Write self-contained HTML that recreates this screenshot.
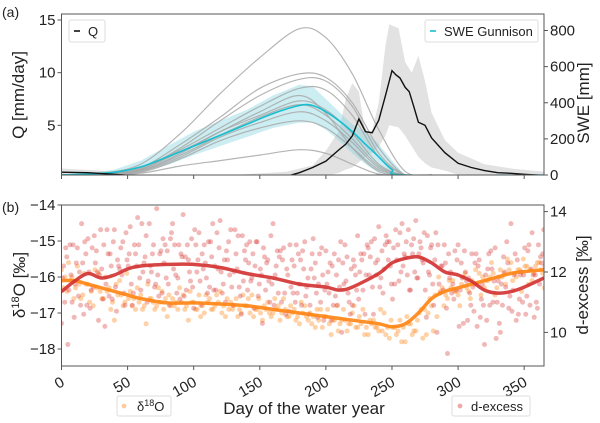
<!DOCTYPE html>
<html><head><meta charset="utf-8">
<style>
html,body{margin:0;padding:0;background:#fff;}
svg{display:block;font-family:"Liberation Sans",Arial,sans-serif;}
</style></head>
<body>
<svg id="chart" width="600" height="423" viewBox="0 0 600 423" xmlns="http://www.w3.org/2000/svg">
<rect width="600" height="423" fill="#fff"/>
<g id="pa"></g>
<g id="pb"></g>
<text x="2" y="17" font-size="14" fill="#222">(a)</text>
<text x="2" y="212" font-size="14" fill="#222">(b)</text>
<text transform="translate(24,95) rotate(-90)" text-anchor="middle" font-size="17" fill="#222">Q [mm/day]</text>
<text transform="translate(589,103) rotate(-90)" text-anchor="middle" font-size="17" fill="#222">SWE [mm]</text>
<text transform="translate(25,285) rotate(-90)" text-anchor="middle" font-size="17" fill="#222">δ<tspan font-size="11" dy="-6">18</tspan><tspan dy="6">O [‰]</tspan></text>
<text transform="translate(588,285) rotate(-90)" text-anchor="middle" font-size="17" fill="#222">d-excess [‰]</text>
<text x="304" y="414" text-anchor="middle" font-size="17" fill="#222">Day of the water year</text>
</svg>
<script>
// ---- data ----
const xTicks = [0,50,100,150,200,250,300,350];
const qTicks = [5,10,15];
const sweTicks = [0,200,400,600,800];
const d18Ticks = [-14,-15,-16,-17,-18];
const dexTicks = [10,12,14];

const qDays = [0,20,40,60,100,150,170,180,190,200,210,215,220,225,230,235,240,245,250,253,256,260,263,266,270,275,280,290,300,310,320,330,340,350,365];
const qVals = [0.55,0.5,0.35,0.15,0.05,0.05,0.15,0.5,1.0,1.6,2.7,3.2,4.0,5.6,4.4,4.3,5.5,7.8,10.2,9.8,9.5,8.6,8.2,7.0,5.3,5.0,3.8,2.4,1.4,1.0,0.7,0.5,0.45,0.35,0.25];
const qBandDays = [0,30,60,120,170,190,200,210,215,220,225,230,235,240,245,248,255,260,265,270,275,280,290,300,320,340,365];
const qBandHi = [0.9,0.7,0.3,0.2,0.6,1.2,2.6,4.5,7.5,9.0,8.2,4.2,4.5,7.2,12.5,14.6,14.2,11.0,10.0,11.6,9.2,6.2,3.6,2.4,1.3,0.9,0.6];
const qBandLo = [0.2,0.1,0,0,0,0,0.2,0.5,0.8,1.0,1.5,2.0,2.4,3.0,4.0,5.0,4.8,4.0,3.0,2.0,1.4,1.0,0.7,0.3,0.1,0,0];

const sweDays = [0,20,40,60,80,100,120,140,160,180,190,200,210,220,230,240,250,260,365];
const sweMean = [0,5,15,45,100,160,220,280,340,385,385,350,300,240,170,100,30,0,0];
const sweBandHi = [0,10,30,80,160,240,300,360,440,500,490,420,350,280,240,170,80,0,0];
const sweBandLo = [0,0,0,15,55,110,160,210,260,290,290,250,190,120,60,10,0,0,0];

const stDays = [0,30,60,90,120,150,180,200,220,240,260,280];
const station1 = [0,10,60,230,450,650,810,760,560,250,20,0];
const station2 = [0,5,40,170,320,480,560,540,400,150,0,0];
const station3 = [0,5,35,150,300,440,530,520,380,120,0,0];
const station4 = [0,5,30,140,260,380,480,470,330,100,0,0];
const station5 = [0,3,25,120,240,330,410,360,230,60,0,0];
const station6 = [0,3,25,110,220,320,390,330,200,50,0,0];
const station7 = [0,2,20,100,210,290,350,300,180,40,0,0];
const station8 = [0,2,15,90,190,260,300,260,150,30,0,0];
const station9 = [0,0,10,50,80,110,140,120,60,5,0,0];
const station10 = [0,5,30,130,240,350,440,340,150,20,0,0];

const smDays = [0,10,20,30,40,50,60,80,100,120,140,160,180,200,210,220,240,250,260,270,280,290,300,310,320,330,340,350,365];
const dexSmooth = [11.35,11.7,11.95,11.8,11.9,12.1,12.2,12.25,12.25,12.15,11.95,11.8,11.6,11.5,11.4,11.5,11.95,12.3,12.45,12.5,12.3,12.0,11.9,11.7,11.4,11.3,11.35,11.5,11.8];
const d18Smooth = [-16.1,-16.1,-16.2,-16.3,-16.4,-16.5,-16.6,-16.72,-16.72,-16.75,-16.8,-16.9,-17.0,-17.1,-17.15,-17.2,-17.3,-17.38,-17.3,-17.0,-16.6,-16.4,-16.3,-16.2,-16.1,-16.0,-15.9,-15.85,-15.8];

// scatter: one value per 4 days (0,4,...,364)
const dexA = [10.3,12.5,11.0,12.8,12.3,13.1,11.5,10.4,12.9,11.2,13.4,12.1,10.9,13.5,12.6,11.4,13.2,12.0,14.1,11.3,12.7,13.6,11.8,13.9,12.4,10.8,13.3,12.9,11.5,12.2,13.7,11.0,13.4,12.6,10.6,12.9,11.8,13.0,10.3,12.4,13.6,11.3,12.8,10.7,12.2,11.6,13.0,10.9,12.3,11.0,12.7,10.4,11.9,10.0,12.5,10.9,13.2,11.4,12.8,10.6,13.5,12.1,13.0,11.6,13.3,12.5,11.4,13.7,12.8,10.5,12.9,10.0,12.2,9.3,11.6,12.9,10.3,11.8,10.7,12.4,9.6,10.9,12.8,10.0,11.5,13.6,10.4,12.0,11.2,13.3,10.8,12.6];
const dexB = [11.8,9.6,12.9,11.2,10.6,12.0,13.2,11.9,10.2,12.6,11.5,12.8,13.3,11.6,12.2,13.6,11.0,12.6,11.9,13.1,11.6,12.1,12.9,11.2,12.0,13.4,11.7,12.3,13.0,11.4,12.0,12.7,11.5,12.1,13.2,11.4,12.6,11.2,12.8,11.7,10.9,12.5,11.3,12.9,11.0,12.4,11.2,12.1,11.3,12.8,11.6,12.2,10.9,12.3,11.3,12.4,11.1,12.6,11.9,13.1,11.5,12.9,12.2,13.4,12.0,13.0,12.9,11.8,12.4,13.2,11.6,12.9,11.4,12.6,11.1,10.2,12.7,11.3,12.3,10.5,11.9,12.7,9.8,11.6,13.0,10.7,12.4,11.0,12.7,11.9,12.9,13.4];
const dexC = [12.2,11.4,10.5,12.0,13.0,10.8,12.3,13.4,11.6,12.2,10.7,11.9,12.4,10.9,13.8,12.0,11.7,12.9,11.2,12.3,10.9,12.9,11.1,12.5,11.7,12.9,10.9,11.8,12.5,13.3,11.3,12.4,10.9,13.2,11.7,12.3,10.8,11.6,12.5,11.0,11.9,12.7,10.6,11.5,12.9,10.9,11.5,12.6,10.5,11.9,12.0,10.9,12.4,11.6,11.0,12.2,12.0,10.6,12.5,12.3,11.8,13.2,11.6,12.4,13.6,11.9,12.6,11.8,12.3,12.0,10.9,11.6,12.9,11.8,12.7,11.4,12.0,10.9,12.6,11.1,10.4,12.1,11.0,10.9,12.3,11.4,10.6,11.9,12.9,10.5,11.6,12.2];
const dexD = [11.0,12.9,11.6,10.9,12.6,11.4,12.7,12.1,13.4,11.1,12.4,13.0,12.2,11.3,12.9,12.3,13.6,11.5,12.6,12.9,13.1,11.9,12.6,11.4,13.1,12.0,12.6,11.3,13.6,12.1,11.6,13.0,12.0,11.5,12.7,13.0,12.2,12.1,11.4,13.2,12.2,11.0,12.1,12.4,11.3,12.7,11.8,13.1,11.6,10.4,11.3,12.6,11.5,12.9,10.6,11.9,12.6,11.9,13.0,11.9,12.7,13.0,11.1,12.9,12.2,13.4,13.1,12.6,13.3,11.9,12.4,11.3,12.3,12.0,11.4,12.3,11.7,12.6,10.2,11.6,12.1,11.0,11.7,12.5,10.8,11.9,11.1,12.8,10.9,11.9,12.5,11.4];
const dexE = [12.8,11.9,12.3,13.6,10.9,12.8,12.0,11.1,12.6,13.0,12.2,11.3,12.6,12.9,11.8,12.5,12.2,11.6,12.7,11.8,13.3,11.3,12.5,12.9,11.5,12.4,12.1,13.0,11.4,12.8,12.4,11.9,13.4,11.2,12.4,11.7,13.0,11.9,12.3,11.6,12.7,12.4,11.9,11.3,12.6,12.1,10.6,11.8,12.6,11.4,12.3,11.2,13.0,11.7,12.1,11.4,12.4,12.9,11.5,12.4,11.3,12.4,12.8,11.7,12.6,11.4,12.0,13.0,11.4,12.8,13.3,12.2,10.8,11.3,12.4,11.8,10.4,11.5,12.2,10.9,12.6,11.7,10.3,12.0,11.2,12.6,11.9,10.6,12.1,11.0,12.3,12.0];
const d18A = [-15.8,-16.4,-16.0,-15.7,-16.5,-16.2,-16.8,-15.9,-16.6,-16.3,-17.2,-16.1,-16.7,-16.4,-16.9,-16.5,-17.3,-16.6,-16.8,-16.4,-17.1,-16.6,-16.9,-16.5,-17.2,-16.7,-16.5,-17.0,-16.6,-16.8,-16.4,-17.1,-16.7,-16.6,-17.0,-16.8,-16.5,-16.9,-17.2,-16.7,-17.0,-16.8,-16.6,-17.1,-16.9,-17.3,-16.8,-17.0,-17.4,-16.9,-17.1,-17.6,-16.8,-17.2,-17.5,-17.0,-17.4,-16.9,-17.6,-17.2,-17.5,-17.0,-17.7,-17.4,-17.2,-17.8,-17.3,-17.5,-16.9,-17.6,-16.8,-17.1,-16.3,-16.6,-16.1,-16.5,-16.0,-16.4,-16.2,-15.9,-16.3,-16.0,-16.5,-15.8,-16.2,-15.6,-16.0,-16.4,-15.7,-16.1,-15.6,-15.9];
const d18B = [-16.3,-15.6,-16.6,-16.2,-15.9,-16.7,-15.8,-16.4,-16.0,-16.9,-16.2,-16.5,-15.9,-16.8,-16.3,-16.9,-16.2,-16.7,-16.3,-16.9,-16.5,-16.8,-16.3,-16.9,-16.4,-16.9,-17.1,-16.5,-16.9,-16.5,-17.0,-16.6,-16.9,-17.1,-16.5,-16.6,-17.1,-16.6,-16.8,-17.0,-16.6,-17.2,-16.9,-16.8,-17.2,-16.7,-17.1,-17.3,-16.9,-17.4,-16.9,-17.2,-17.5,-16.9,-17.3,-16.8,-17.1,-17.6,-17.2,-17.4,-16.9,-17.6,-17.2,-17.6,-17.8,-17.1,-17.6,-17.2,-17.7,-17.0,-17.5,-16.0,-16.8,-16.1,-16.4,-16.8,-15.9,-16.6,-15.8,-16.5,-16.1,-15.6,-16.3,-16.0,-15.5,-16.1,-15.8,-15.5,-16.2,-15.9,-15.6,-16.3];
const d18C = [-16.0,-16.1,-16.3,-16.6,-16.2,-16.4,-16.3,-16.6,-16.4,-16.7,-16.5,-16.8,-16.6,-16.6,-16.7,-16.8,-16.6,-16.9,-16.7,-16.6,-16.8,-16.7,-16.7,-16.8,-16.7,-16.9,-16.8,-16.7,-16.9,-16.7,-16.8,-16.9,-16.8,-16.9,-16.8,-17.0,-16.9,-17.0,-16.9,-17.1,-16.9,-17.0,-17.1,-17.0,-17.1,-17.0,-17.2,-17.1,-17.2,-17.1,-17.3,-17.2,-17.3,-17.2,-17.3,-17.4,-17.3,-17.4,-17.3,-17.4,-17.5,-17.4,-17.4,-17.5,-17.4,-17.3,-17.5,-17.0,-16.9,-16.6,-16.5,-16.4,-16.5,-16.3,-16.4,-16.2,-16.3,-16.1,-16.2,-16.0,-16.1,-15.9,-16.0,-15.9,-15.8,-15.9,-15.8,-15.7,-15.8,-15.7,-15.8,-15.7];

// ---- scales ----
const X0=61.5, X1=544, XMAX=365;
const sx = d => X0 + d*(X1-X0)/XMAX;
const PA_T=14, PA_B=175, PB_T=205, PB_B=366;
const syQ = v => 178 - v*(178-20)/15;
const syS = v => 175 - v*(175-30.5)/800;
const syO = v => 205 + (-14 - v)*36;
const syD = v => 272 - (v-12)*30.2;

const NS='http://www.w3.org/2000/svg';
function mk(tag, parent, attrs){const e=document.createElementNS(NS,tag);for(const k in attrs)e.setAttribute(k,attrs[k]);parent.appendChild(e);return e;}
function pts(days, vals, fy){return days.map((d,i)=>sx(d).toFixed(1)+','+fy(vals[i]).toFixed(1)).join(' ');}
function smoothPath(days, vals, fy){
  const P=days.map((d,i)=>[sx(d),fy(vals[i])]);
  let s='M'+P[0][0].toFixed(1)+','+P[0][1].toFixed(1);
  for(let i=0;i<P.length-1;i++){
    const p0=P[Math.max(0,i-1)],p1=P[i],p2=P[i+1],p3=P[Math.min(P.length-1,i+2)];
    const c1=[p1[0]+(p2[0]-p0[0])/6,p1[1]+(p2[1]-p0[1])/6];
    const c2=[p2[0]-(p3[0]-p1[0])/6,p2[1]-(p3[1]-p1[1])/6];
    s+=' C'+c1.map(v=>v.toFixed(1)).join(',')+' '+c2.map(v=>v.toFixed(1)).join(',')+' '+p2[0].toFixed(1)+','+p2[1].toFixed(1);
  }
  return s;
}
function band(days, hi, lo, fy){const a=days.map((d,i)=>sx(d).toFixed(1)+','+fy(hi[i]).toFixed(1));const b=days.map((d,i)=>sx(d).toFixed(1)+','+fy(lo[i]).toFixed(1)).reverse();return a.concat(b).join(' ');}

const pa=document.getElementById('pa'), pb=document.getElementById('pb');
const defs=mk('defs',document.getElementById('chart'),{});
const ca=mk('clipPath',defs,{id:'clipA'});mk('rect',ca,{x:X0,y:PA_T,width:X1-X0,height:PA_B-PA_T});
const cb=mk('clipPath',defs,{id:'clipB'});mk('rect',cb,{x:X0,y:PB_T,width:X1-X0,height:PB_B-PB_T});

// ---- panel a ----
const ga=mk('g',pa,{'clip-path':'url(#clipA)'});
let e;
e=mk('polygon',ga,{points:band(qBandDays,qBandHi,qBandLo,syQ),fill:'#cfcfcf','fill-opacity':0.6});


e=mk('polygon',ga,{points:band(sweDays,sweBandHi,sweBandLo,syS),fill:'#7fd3de','fill-opacity':0.4});


[station1,station2,station3,station4,station5,station6,station7,station8,station9,station10].forEach((s,i)=>{
  const l=mk('path',ga,{d:smoothPath(stDays,s,syS),fill:'none',stroke:'#a8a8a8','stroke-width':1.2,'stroke-opacity':0.85});
  
  
});
e=mk('path',ga,{d:smoothPath(sweDays,sweMean,syS),fill:'none',stroke:'#17becf','stroke-width':1.6});


e=mk('polyline',ga,{points:pts(qDays,qVals,syQ),fill:'none',stroke:'#111','stroke-width':1.4});



// ---- panel b ----
const gb=mk('g',pb,{'clip-path':'url(#clipB)'});
[d18A,d18B,d18C].forEach((arr,k)=>arr.forEach((v,i)=>{
  const c=mk('circle',gb,{cx:sx(i*4+k*1.3),cy:syO(v),r:2.5,fill:'#ff9a3c','fill-opacity':0.45});
  
  
}));
[dexA,dexB,dexC,dexD,dexE].forEach((arr,k)=>arr.forEach((v,i)=>{
  const c=mk('circle',gb,{cx:sx(i*4+k*0.8),cy:syD(v),r:2.5,fill:'#d62728','fill-opacity':0.33});
  
  
}));
e=mk('path',gb,{d:smoothPath(smDays,d18Smooth,syO),fill:'none',stroke:'#ff8412','stroke-width':3.5,'stroke-opacity':0.9});


e=mk('path',gb,{d:smoothPath(smDays,dexSmooth,syD),fill:'none',stroke:'#d13030','stroke-width':3.5,'stroke-opacity':0.9});



// ---- frames & ticks ----
function frame(p,top,bot,name){
  const r=mk('rect',p,{x:X0,y:top,width:X1-X0,height:bot-top,fill:'none',stroke:'#555','stroke-width':1});
  
  
}
frame(pa,PA_T,PA_B,'panel-a-frame');
frame(pb,PB_T,PB_B,'panel-b-frame');
xTicks.forEach(t=>{
  mk('line',pa,{x1:sx(t),x2:sx(t),y1:PA_B,y2:PA_B+4,stroke:'#555'});
  mk('line',pb,{x1:sx(t),x2:sx(t),y1:PB_B,y2:PB_B+4,stroke:'#555'});
  const tx=mk('text',pb,{transform:`translate(${sx(t)+4},${385}) rotate(-30)`,'text-anchor':'end','font-size':15,fill:'#222'});
  tx.textContent=t;
  
  
});
function ytick(p,vals,fy,left,name){
  vals.forEach(v=>{
    const y=fy(v);
    if(left){mk('line',p,{x1:X0-4,x2:X0,y1:y,y2:y,stroke:'#555'});}
    else{mk('line',p,{x1:X1,x2:X1+4,y1:y,y2:y,stroke:'#555'});}
    const tx=mk('text',p,{x:left?X0-6:X1+6,y:y+5,'text-anchor':left?'end':'start','font-size':15,fill:'#222'});
    tx.textContent=(v<0?'\u2212'+Math.abs(v):v);
    
    
  });
}
ytick(pa,qTicks,syQ,true,'q-tick-label');
ytick(pa,sweTicks,syS,false,'swe-tick-label');
ytick(pb,d18Ticks,syO,true,'d18o-tick-label');
ytick(pb,dexTicks,syD,false,'dexcess-tick-label');

// ---- legends ----
function legend(p,x,y,w,h,name,draw,label,tx){
  const g=mk('g',p,{});
  
  
  mk('rect',g,{x:x,y:y,width:w,height:h,rx:2,fill:'#fff','fill-opacity':0.85,stroke:'#ddd'});
  draw(g);
  const t=mk('text',g,{x:tx,y:y+h/2+5,'font-size':13,fill:'#222'});
  t.innerHTML=label;
}
legend(pa,69,20,36,22,'legend-q',g=>mk('line',g,{x1:74,x2:80,y1:31,y2:31,stroke:'#111','stroke-width':1.6}),'Q',88);
legend(pa,425,20,113,22,'legend-swe-gunnison',g=>mk('line',g,{x1:430,x2:436,y1:31,y2:31,stroke:'#17becf','stroke-width':1.6}),'SWE Gunnison',444);
legend(pb,117,396,54,20,'legend-d18o',g=>mk('circle',g,{cx:124,cy:406,r:2.4,fill:'#ff9a3c','fill-opacity':0.5}),'δ<tspan font-size="9" dy="-5">18</tspan><tspan dy="5">O</tspan>',137);
legend(pb,452,396,78,20,'legend-dexcess',g=>mk('circle',g,{cx:460,cy:406,r:2.4,fill:'#d62728','fill-opacity':0.4}),'d-excess',471);
</script>
</body></html>
